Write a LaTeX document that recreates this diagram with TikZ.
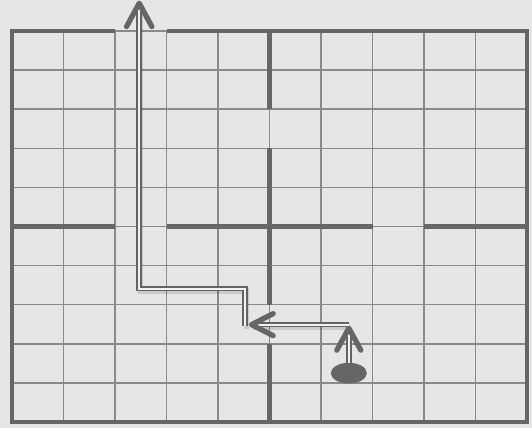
\documentclass[tikz,border=0pt]{standalone}
\usepackage{tikz}
\usetikzlibrary{shapes.geometric}

\definecolor{bgc}{RGB}{230,230,230}
\definecolor{wallc}{RGB}{102,102,102}
\definecolor{gridc}{RGB}{138,138,138}
\definecolor{trailc}{RGB}{100,100,100}

\tikzset{
  cell/.style={draw=gridc, line width=1.3pt},
  wall/.style={draw=wallc, line width=4.2pt, line join=miter},
  trail/.style={draw=trailc, line width=1.5pt, double=bgc!50!white, double distance=1.8pt, line join=miter},
  trailshade/.style={draw=black, opacity=0.12, line width=4.8pt, line join=miter},
  head/.style={draw=wallc, line width=4.5pt, line cap=round, line join=round},
  robot/.style={ellipse, fill=wallc, minimum width=1.08cm, minimum height=0.62cm, inner sep=0pt}
}

\begin{document}
\begin{tikzpicture}[x=1.545cm, y=1.173cm]
    \useasboundingbox (-0.233,-0.153) rectangle (10.097,10.793);
    \fill[bgc] (-0.233,-0.153) rectangle (10.097,10.793);

    % thin cells
    \draw[cell, xstep=1.545cm, ystep=1.173cm] (0,0) grid (10,10);

    % walls with doors
    \draw[wall] (2,10) -- (0,10) -- (0,0) -- (10,0) -- (10,10) -- (3,10);
    \draw[wall] (0,5) -- (2,5);
    \draw[wall] (3,5) -- (7,5);
    \draw[wall] (8,5) -- (10,5);
    \draw[wall] (5,10) -- (5,8);
    \draw[wall] (5,7) -- (5,3);
    \draw[wall] (5,2) -- (5,0);

    % robot and its moves
    \node[robot] (bot) at (6.54,1.25) {};
    \coordinate (up1) at (6.54,2.40);
    \coordinate (go2) at (6.54,2.49);
    \coordinate (left2) at (4.65,2.49);
    \coordinate (go3) at (4.53,2.45);
    \coordinate (bend3) at (4.53,3.41);
    \coordinate (turn3) at (2.47,3.41);
    \coordinate (exit3) at (2.47,10.71);

    \draw[trailshade, transform canvas={xshift=0.04cm, yshift=-0.07cm}] (go3) -- (bend3) -- (turn3) -- (exit3);
    \draw[trailshade, transform canvas={xshift=0.04cm, yshift=-0.07cm}] (go2) -- (left2);

    \draw[trail] (bot.north) -- (up1);
    \draw[head] ([shift={(-0.36cm,-0.66cm)}]up1) -- (up1) -- ([shift={(0.36cm,-0.66cm)}]up1);

    \draw[trail] (go2) -- (left2);
    \draw[head] ([shift={(0.65cm,0.33cm)}]left2) -- (left2) -- ([shift={(0.65cm,-0.33cm)}]left2);

    \draw[trail] (go3) -- (bend3) -- (turn3) -- (exit3);
    \draw[head] ([shift={(-0.38cm,-0.70cm)}]exit3) -- (exit3) -- ([shift={(0.38cm,-0.70cm)}]exit3);
\end{tikzpicture}
\end{document}
